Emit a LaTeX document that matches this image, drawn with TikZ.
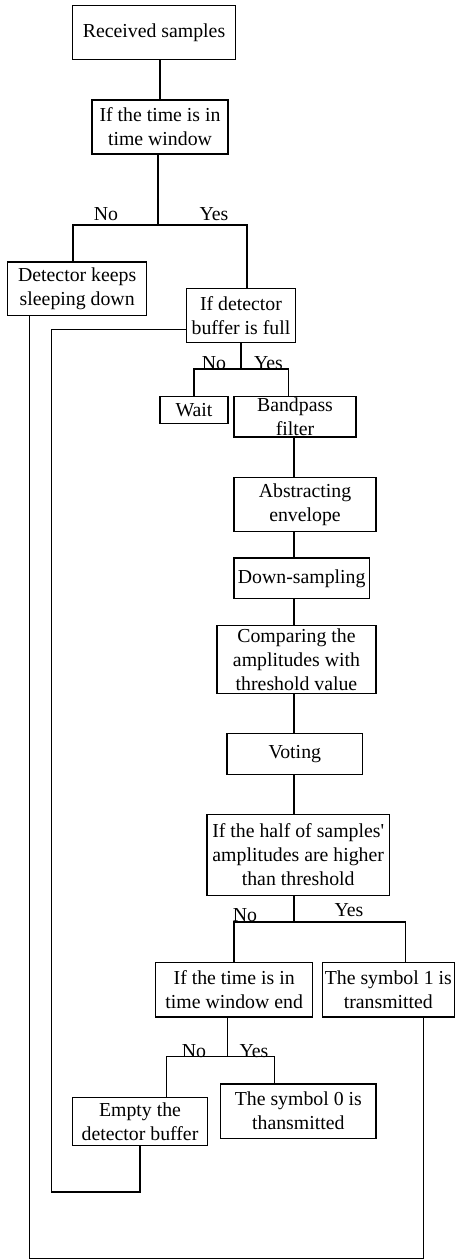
\documentclass[tikz,border=0pt]{standalone}
\usepackage{fontspec}
\setmainfont{Liberation Serif}
\usetikzlibrary{positioning,calc}
\tikzset{
  box/.style={draw=black,line width=1.5pt,align=center,inner sep=0pt,font=\fontsize{19.8}{24}\selectfont},
  lbl/.style={anchor=base,inner sep=0pt,font=\fontsize{19.8}{24}\selectfont},
  link/.style={line width=1.5pt,draw=black}
}
\begin{document}
\begin{tikzpicture}[x=1pt,y=-1pt]
  \useasboundingbox (0,0) rectangle (455,1260);

  \node (recv) [box,minimum width=162.6pt,minimum height=54pt] at (154,32.7) {Received samples};
  \node (inwin) [box,minimum width=136pt,minimum height=54.3pt] at (160,127) {If the time is in\\time window};
  \node (sleep) [box,minimum width=139pt,minimum height=53.7pt] at (77.2,288.7) {Detector keeps\\sleeping down};
  \node (full) [box,minimum width=108.6pt,minimum height=54pt] at (241,315.7) {If detector\\buffer is full};
  \node (wait) [box,minimum width=68pt,minimum height=27pt] at (194,410.2) {Wait};
  \node (band) [box,minimum width=122pt,minimum height=40.3pt] at (295,416.8) {Bandpass\\filter};
  \node (env) [box,minimum width=142pt,minimum height=53.6pt] at (305,504.5) {Abstracting\\envelope};
  \node (down) [box,minimum width=135.3pt,minimum height=40.7pt] at (301.7,578.3) {Down-sampling};
  \node (comp) [box,minimum width=159pt,minimum height=68.4pt] at (296.5,659.5) {Comparing the\\amplitudes with\\threshold value};
  \node (vote) [box,minimum width=135.7pt,minimum height=40.6pt] at (294.8,754) {Voting};
  \node (half) [box,minimum width=182.3pt,minimum height=81pt] at (298.2,854.8) {If the half of samples\textquotesingle\\amplitudes are higher\\than threshold};
  \node (endwin) [box,minimum width=157pt,minimum height=54.7pt] at (234.2,989.7) {If the time is in\\time window end};
  \node (sym1) [box,minimum width=132pt,minimum height=54.7pt] at (388.3,989.7) {The symbol 1 is\\transmitted};
  \node (sym0) [box,minimum width=155.3pt,minimum height=54.3pt] at (298.3,1111.2) {The symbol 0 is\\thansmitted};
  \node (empty) [box,minimum width=134.6pt,minimum height=47.6pt] at (140,1121.5) {Empty the\\detector buffer};

  % branch bars
  \coordinate (bar1) at (158,225);
  \coordinate (bar2) at (241,369);
  \coordinate (bar3) at (294,922);
  \coordinate (bar4) at (227.7,1056.7);
  \coordinate (spine) at (294,0);
  \coordinate (loopA) at (51.7,1192);
  \coordinate (loopB) at (29.3,1258.7);

  \draw[link] (inwin.north) -- (inwin.north |- recv.south);
  \draw[link] ([xshift=-2pt]inwin.south) -- (bar1);
  \draw[link] ([xshift=-4.2pt]sleep.north) |- (bar1) -| ([xshift=6pt]full.north);
  \draw[link] (full.south) -- (bar2);
  \draw[link] (wait.north) |- (bar2) -| ([xshift=-6.3pt]band.north);
  \draw[link] (spine |- band.south) -- (spine |- env.north);
  \draw[link] (spine |- env.south) -- (spine |- down.north);
  \draw[link] (spine |- down.south) -- (spine |- comp.north);
  \draw[link] (spine |- comp.south) -- (spine |- vote.north);
  \draw[link] (spine |- vote.south) -- (spine |- half.north);
  \draw[link] (spine |- half.south) -- (bar3);
  \draw[link] (endwin.north) |- (bar3) -| ([xshift=17.4pt]sym1.north);
  \draw[link] ([xshift=-6.5pt]endwin.south) -- (bar4);
  \draw[link] ([xshift=26.7pt]empty.north) |- (bar4) -| ([xshift=-23.6pt]sym0.north);

  % loops back
  \draw[link] (empty.south) |- (loopA) |- ([yshift=-13.6pt]full.west);
  \draw[link] ([xshift=-47.9pt]sleep.south) |- (loopB) -| ([xshift=35pt]sym1.south);

  \node (no1) [lbl] at (106,220) {No};
  \node (yes1) [lbl] at (214,220) {Yes};
  \node (no2) [lbl] at (214,369) {No};
  \node (yes2) [lbl] at (268.5,369) {Yes};
  \node (no3) [lbl] at (245,921.5) {No};
  \node (yes3) [lbl] at (349,916) {Yes};
  \node (no4) [lbl] at (194,1057) {No};
  \node (yes4) [lbl] at (254,1057) {Yes};
\end{tikzpicture}
\end{document}
